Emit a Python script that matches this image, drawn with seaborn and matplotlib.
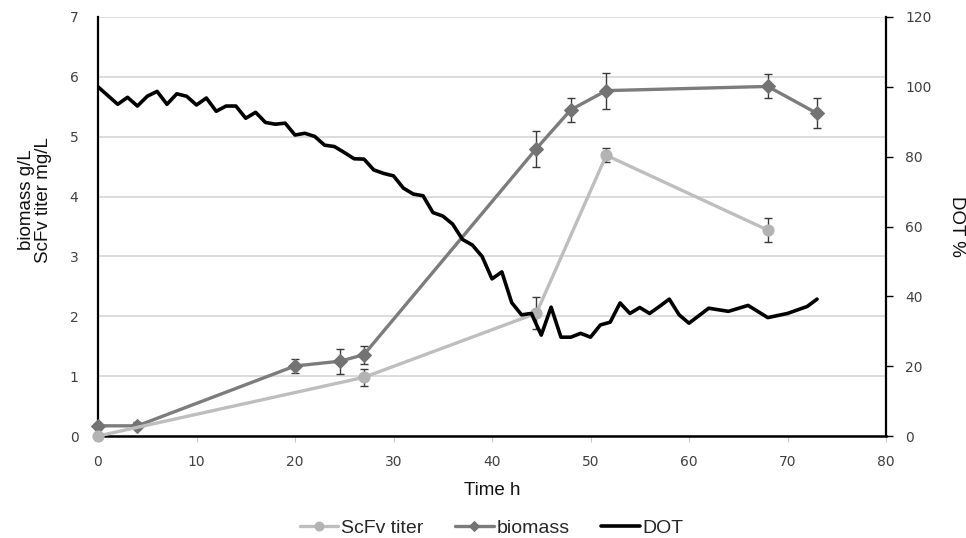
import matplotlib
matplotlib.use("Agg")
import matplotlib.pyplot as plt
import seaborn as sns
import pandas as pd

# Dissolved oxygen tension (%) over the fermentation
dot_time = [0, 1, 2, 3, 4, 5, 6, 7, 8, 9, 10, 11, 12, 13, 14, 15, 16, 17, 18, 19,
            20, 21, 22, 23, 24, 25, 26, 27, 28, 29, 30, 31, 32, 33, 34, 35, 36, 37,
            38, 39, 40, 41, 42, 43, 44, 45, 46, 47, 48, 49, 50, 51, 52, 53, 54, 55,
            56, 57, 58, 59, 60, 62, 64, 66, 68, 70, 72, 73]
dot_values = [100, 97.5, 95, 97, 94.5, 97.3, 98.7, 95, 98, 97.3, 94.8, 96.8, 93, 94.5,
              94.5, 91, 92.7, 89.8, 89.3, 89.6, 86.2, 86.7, 85.8, 83.3, 82.9, 81.2,
              79.4, 79.3, 76.2, 75.2, 74.5, 71, 69.3, 68.8, 64, 63, 60.7, 56.3, 54.7,
              51.4, 45, 47, 38.2, 34.7, 35.1, 28.9, 36.9, 28.3, 28.3, 29.4, 28.3, 31.8,
              32.6, 38.1, 35.1, 36.8, 35.1, 37.1, 39.2, 34.7, 32.3, 36.6, 35.7, 37.4,
              33.9, 35.1, 37.1, 39.2]

# Biomass (g/L) with standard deviation
biomass_time = [0, 4, 20, 24.6, 27, 44.5, 48, 51.6, 68, 73]
biomass_values = [0.17, 0.17, 1.17, 1.25, 1.36, 4.80, 5.45, 5.77, 5.84, 5.39]
biomass_err = [0.05, 0.06, 0.11, 0.21, 0.15, 0.30, 0.20, 0.30, 0.20, 0.25]

# ScFv titer (mg/L) with standard deviation
titer_time = [0, 27, 44.5, 51.6, 68]
titer_values = [0.0, 0.98, 2.05, 4.69, 3.44]
titer_err = [0.0, 0.14, 0.27, 0.12, 0.20]

x_ticks = [0, 10, 20, 30, 40, 50, 60, 70, 80]
left_ticks = [0, 1, 2, 3, 4, 5, 6, 7]
right_ticks = [0, 20, 40, 60, 80, 100, 120]

sns.set_theme(style="white")
plt.rcParams["font.family"] = ["DejaVu Sans"]

dot_df = pd.DataFrame({"time": dot_time, "DOT": dot_values})
bio_df = pd.DataFrame({"time": biomass_time, "biomass": biomass_values})
tit_df = pd.DataFrame({"time": titer_time, "titer": titer_values})

C_BIO = "#7c7c7c"
C_TIT = "#bebebe"
C_ERR = "#3a3a3a"

fig = plt.figure(figsize=(9.66, 5.38), dpi=100)
ax = fig.add_axes([98 / 966, 1 - 436 / 538, 788 / 966, 419 / 538])

ax.set_xlim(0, 80)
ax.set_ylim(0, 7)
ax.set_yticks(left_ticks)
ax.set_xticks(x_ticks)
ax.yaxis.grid(True, color="#d9d9d9", linewidth=1.3)
ax.set_axisbelow(True)

# error bars below the series lines
ax.errorbar(biomass_time, biomass_values, yerr=biomass_err, fmt="none",
            ecolor=C_ERR, elinewidth=1.0, capsize=3, capthick=1.0, zorder=2)
ax.errorbar(titer_time[1:], titer_values[1:], yerr=titer_err[1:], fmt="none",
            ecolor=C_ERR, elinewidth=1.0, capsize=3, capthick=1.0, zorder=2)

sns.lineplot(data=tit_df, x="time", y="titer", ax=ax, color=C_TIT, linewidth=2.4,
             marker="o", markersize=8, markerfacecolor="#b3b3b3",
             markeredgecolor="#b3b3b3", label="ScFv titer", zorder=4,
             clip_on=False, legend=False)
sns.lineplot(data=bio_df, x="time", y="biomass", ax=ax, color=C_BIO, linewidth=2.4,
             marker="D", markersize=7, markerfacecolor="#737373",
             markeredgecolor="#737373", label="biomass", zorder=3,
             clip_on=False, legend=False)

for s in ["top", "right"]:
    ax.spines[s].set_visible(False)
ax.spines["left"].set_color("black")
ax.spines["left"].set_linewidth(1.6)
ax.spines["bottom"].set_color("black")
ax.spines["bottom"].set_linewidth(1.8)
ax.spines["left"].set_zorder(1)
ax.spines["bottom"].set_zorder(1)

ax.tick_params(axis="y", left=False, length=0, pad=14, labelsize=10, labelcolor="#404040")
ax.tick_params(axis="x", bottom=True, length=4, width=0.8, color="#c8c8c8", pad=10,
               labelsize=10, labelcolor="#404040")

ax.set_xlabel("Time h", fontsize=13.5, family="Liberation Sans", color="#111111",
              labelpad=9)
ax.set_ylabel("biomass g/L\nScFv titer mg/L", fontsize=13.5, family="Liberation Sans",
              color="#111111", linespacing=1.05)
ax.yaxis.set_label_coords(-0.058, 0.563)

# DOT on a secondary axis
ax2 = ax.twinx()
ax2.set_ylim(0, 120)
ax2.set_yticks(right_ticks)
sns.lineplot(data=dot_df, x="time", y="DOT", ax=ax2, color="black", linewidth=2.6,
             label="DOT", legend=False)
ax2.set_xlim(0, 80)
for s in ["top", "left", "bottom"]:
    ax2.spines[s].set_visible(False)
ax2.spines["right"].set_color("black")
ax2.spines["right"].set_linewidth(1.6)
ax2.tick_params(axis="y", right=True, length=5, width=1.0, color="black", pad=9,
                labelsize=10, labelcolor="#404040")
ax2.set_ylabel("DOT %", rotation=270, fontsize=13.5, family="Liberation Sans",
               color="#111111", labelpad=24)
ax2.set_xlabel("")

h1, l1 = ax.get_legend_handles_labels()
h2, l2 = ax2.get_legend_handles_labels()
fig.legend(h1 + h2, l1 + l2, loc="center", bbox_to_anchor=(0.509, 0.018), ncol=3,
           frameon=False, prop={"family": "Liberation Sans", "size": 14},
           handlelength=2.0, handletextpad=0.15, columnspacing=1.6, markerscale=0.8)

fig.savefig("out.png", dpi=100)
